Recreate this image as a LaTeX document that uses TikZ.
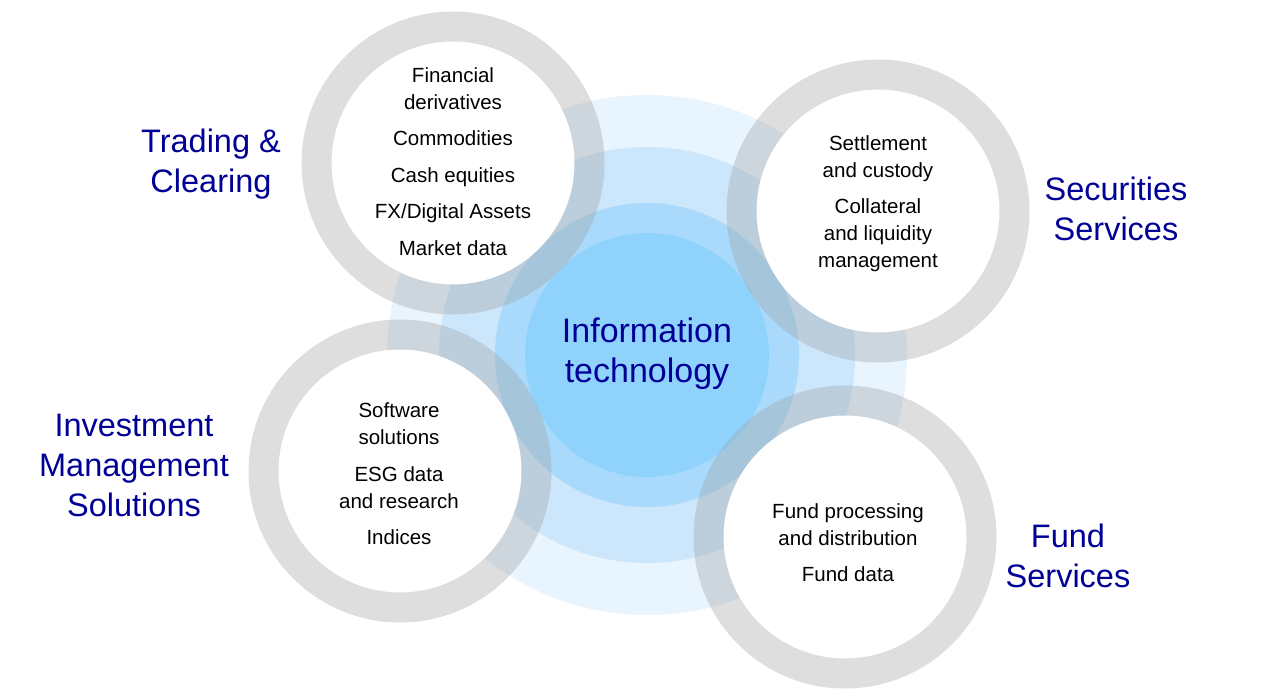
\documentclass[tikz,border=0pt]{standalone}
\usepackage{fontspec}
\setmainfont{Liberation Sans}

\definecolor{coreA}{HTML}{E8F4FE}
\definecolor{coreB}{HTML}{CCE6FB}
\definecolor{coreC}{HTML}{A9D9FB}
\definecolor{coreD}{HTML}{8FD3FD}
\definecolor{ringgray}{HTML}{A0A0A0}
\definecolor{unitblue}{HTML}{000096}

\tikzset{
  hole/.style={circle, fill=white, inner sep=0pt, minimum size=243pt},
  ring/.style={draw=ringgray, draw opacity=0.35, line width=30pt},
  items/.style={align=center, inner sep=0pt, font=\fontsize{20.5}{27}\selectfont},
  division/.style={align=center, inner sep=0pt, text=unitblue, font=\fontsize{32.5}{40}\selectfont}
}

\begin{document}
\begin{tikzpicture}[x=1pt,y=-1pt]
\useasboundingbox (0,0) rectangle (1280,700);

% information technology core
\coordinate (core) at (647,355);
\fill[coreA] (core) circle (260);
\fill[coreB] (core) circle (208);
\fill[coreC] (core) circle (152);
\fill[coreD] (core) circle (122);

% the four businesses
\node (trading) at (453,163) [hole] {};
\node (securities) at (878,211) [hole] {};
\node (investment) at (400,471) [hole] {};
\node (fund) at (845,537) [hole] {};

\draw[ring] (trading.center) circle (136.5);
\draw[ring] (securities.center) circle (136.5);
\draw[ring] (investment.center) circle (136.5);
\draw[ring] (fund.center) circle (136.5);

\node (tradingitems) at (453,161.5) [items] {Financial\\derivatives\\[9.5pt]Commodities\\[9.5pt]Cash equities\\[9.5pt]FX/Digital Assets\\[9.5pt]Market data};
\node (securitiesitems) at (878,203.5) [items] {Settlement\\and custody\\[9.5pt]Collateral\\and liquidity\\management};
\node (investmentitems) at (399,474) [items] {Software\\solutions\\[9.5pt]ESG data\\and research\\[9.5pt]Indices};
\node (funditems) at (848,542.5) [items] {Fund processing\\and distribution\\[9.5pt]Fund data};

\node (it) at (647,354) [division, font=\fontsize{34}{40}\selectfont] {Information\\technology};
\node (tradingname) at (211,164) [division] {Trading \&\\Clearing};
\node (securitiesname) at (1116,208.5) [division] {Securities\\Services};
\node (investmentname) at (134,465) [division] {Investment\\Management\\Solutions};
\node (fundname) at (1068,556) [division] {Fund\\Services};
\end{tikzpicture}
\end{document}
